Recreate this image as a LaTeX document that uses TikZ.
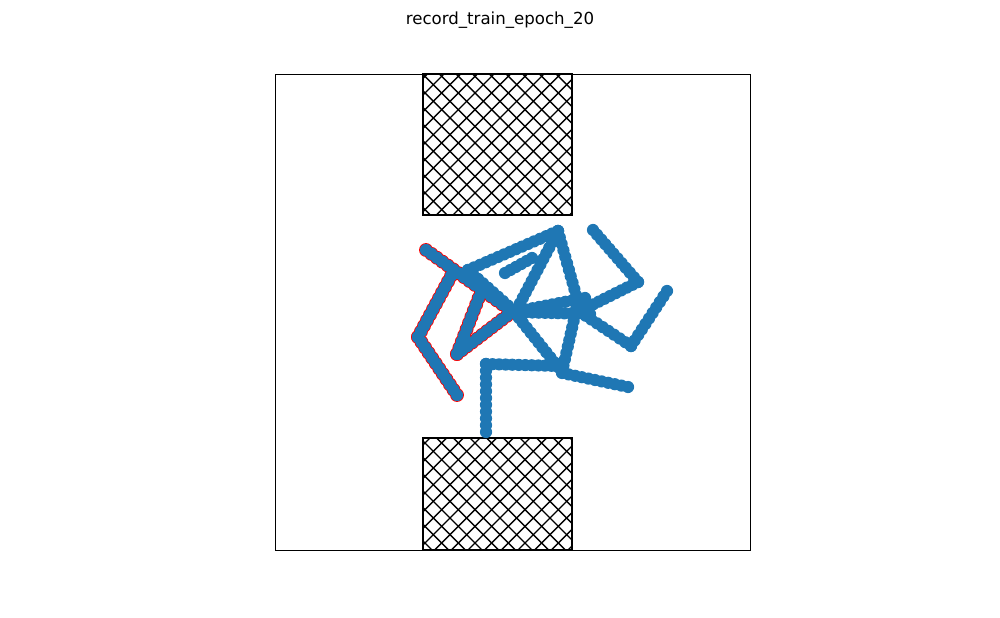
\documentclass[tikz,border=0pt]{standalone}
\usepackage{fontspec}
\setmainfont{DejaVu Sans}
\usetikzlibrary{calc}
\definecolor{Mblue}{RGB}{31,119,180}

%% dots along a straight link, about 6.5px apart
\newcommand\dotseg[5][bdot]{%
  \pgfmathtruncatemacro\nst{max(1,round(veclen(#4-#2,#5-#3)/6.5))}%
  \foreach \k in {0,...,\nst}{%
    \path[#1] ({#2+(#4-#2)*\k/\nst},{#3+(#5-#3)*\k/\nst}) circle (1.55mm);}%
}

%% hatched obstacle
\newcommand\hatchbox[4]{%
  \begin{scope}
    \clip (#1,#2) rectangle (#3,#4);
    \foreach \k in {-20,...,80}{%
      \draw[hatchline] (300,{918-\k*16.667}) -- (700,{1318-\k*16.667});
      \draw[hatchline] (300,{318+\k*16.667}) -- (700,{-82+\k*16.667});
    }
  \end{scope}
  \draw[boxline] (#1,#2) rectangle (#3,#4);%
}

\def\redsegs{426/250/513/312, 451/276/418/337, 418/337/457/395,
  457/354/512/312, 457/354/481/292}
\def\bluesegs{486/432/486/364, 486/364/558/366, 562/373/628/387,
  515/313/562/372, 562/372/578/302, 578/302/558/231, 558/231/468/270,
  558/231/517/309, 505/273/532/258, 513/312/590/314, 513/312/585/298,
  580/312/631/346, 631/346/667/291, 582/310/638/282, 638/282/593/230,
  468/270/513/310}

\begin{document}
\begin{tikzpicture}[
  x=0.254mm, y=-0.254mm,
  axline/.style={draw=black, line width=0.6pt},
  boxline/.style={draw=black, line width=2pt},
  hatchline/.style={draw=black, line width=1pt},
  bdot/.style={fill=Mblue},
  rline/.style={draw=red, line width=1.2pt},
  title/.style={font=\fontsize{12pt}{14pt}\selectfont}
]
\useasboundingbox (0,0) rectangle (1000,618);

\node[title] (ttl) at (500,20) {record\_train\_epoch\_20};

%% axes frame
\draw[axline] (275,74) rectangle (750,550);

%% obstacles
\hatchbox{423}{74}{572}{215}
\hatchbox{423}{438}{572}{550}

%% red-edged links first, blue links on top
\foreach \xa/\ya/\xb/\yb in \redsegs {\dotseg[rline]{\xa}{\ya}{\xb}{\yb}}
\foreach \xa/\ya/\xb/\yb in \redsegs {\dotseg[bdot]{\xa}{\ya}{\xb}{\yb}}
\foreach \xa/\ya/\xb/\yb in \bluesegs {\dotseg[bdot]{\xa}{\ya}{\xb}{\yb}}

\end{tikzpicture}
\end{document}
